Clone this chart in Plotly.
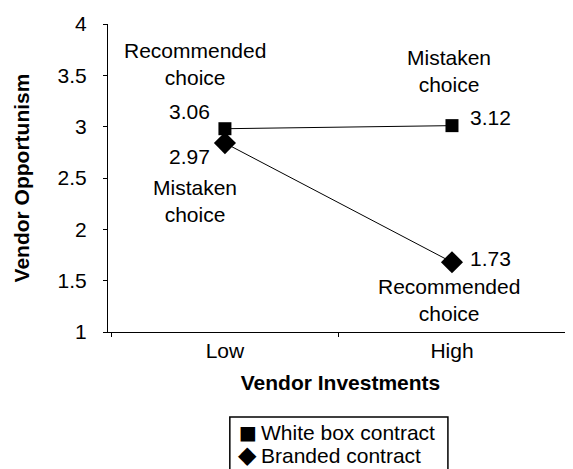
import plotly.graph_objects as go

FONT = "Arial, Liberation Sans, sans-serif"
INK = "black"

# data
investments = ["Low", "High"]
white_box = [2.98, 3.01]
branded = [2.84, 1.68]
white_box_labels = ["3.06", "3.12"]
branded_labels = ["2.97", "1.73"]
series_names = ["White box contract", "Branded contract"]
y_ticks = [1, 1.5, 2, 2.5, 3, 3.5, 4]
y_tick_text = ["1", "1.5", "2", "2.5", "3", "3.5", "4"]

fig = go.Figure()

fig.add_trace(go.Scatter(
    x=investments, y=white_box, mode="lines+markers", name=series_names[0],
    line=dict(color=INK, width=1),
    marker=dict(symbol="square", size=13, color=INK),
    showlegend=False,
))
fig.add_trace(go.Scatter(
    x=investments, y=branded, mode="lines+markers", name=series_names[1],
    line=dict(color=INK, width=1),
    marker=dict(symbol="diamond", size=17, color=INK),
    showlegend=False,
))

notes = [
    (-0.13, 3.61, "Recommended<br>choice"),
    (-0.155, 3.143, white_box_labels[0]),
    (-0.155, 2.714, branded_labels[0]),
    (-0.134, 2.276, "Mistaken<br>choice"),
    (0.987, 3.542, "Mistaken<br>choice"),
    (1.168, 3.094, white_box_labels[1]),
    (1.168, 1.72, branded_labels[1]),
    (0.987, 1.312, "Recommended<br>choice"),
]
for x, y, txt in notes:
    fig.add_annotation(
        x=x, y=y, text=txt, showarrow=False,
        xref="x", yref="y", xanchor="center", yanchor="middle",
        font=dict(family=FONT, size=21, color=INK),
    )

# hand-made legend box below the axis (bottom is cut by the page edge)
fig.add_shape(
    type="rect", xref="paper", yref="paper",
    x0=0.262, x1=0.731, y0=-0.276, y1=-0.52,
    line=dict(color=INK, width=1.5), fillcolor="white",
)
legend_rows = [("■", -0.325, 19), ("◆", -0.400, 24)]
for (sym, ly, fs), name in zip(legend_rows, series_names):
    fig.add_annotation(
        x=0.301, y=ly, text=sym, showarrow=False,
        xref="paper", yref="paper", xanchor="center", yanchor="middle",
        font=dict(family="DejaVu Sans", size=fs, color=INK),
    )
    fig.add_annotation(
        x=0.325, y=ly, text=name, showarrow=False,
        xref="paper", yref="paper", xanchor="left", yanchor="middle",
        font=dict(family=FONT, size=21, color=INK),
    )

fig.update_layout(
    width=573,
    height=469,
    margin=dict(l=100, r=8, t=16, b=145, autoexpand=False),
    plot_bgcolor="white",
    paper_bgcolor="white",
    font=dict(family=FONT, size=21, color=INK),
    showlegend=False,
    xaxis=dict(
        type="category",
        range=[-0.515, 1.533],
        showline=True, linecolor=INK, linewidth=1,
        showgrid=False, zeroline=False,
        ticks="outside", ticklen=4, tickcolor=INK, tickson="boundaries",
        tickfont=dict(family=FONT, size=21, color=INK),
        title=dict(text="<b>Vendor Investments</b>",
                   font=dict(family=FONT, size=21, color=INK), standoff=14),
    ),
    yaxis=dict(
        range=[1, 4],
        tickvals=y_ticks, ticktext=y_tick_text,
        showline=True, linecolor=INK, linewidth=1,
        showgrid=False, zeroline=False,
        ticks="outside", ticklen=4, tickcolor=INK,
        ticklabelstandoff=12,
        tickfont=dict(family=FONT, size=21, color=INK),
        title=dict(text="<b>Vendor Opportunism</b>",
                   font=dict(family=FONT, size=21, color=INK), standoff=22),
    ),
)

fig.write_html("out.html")
